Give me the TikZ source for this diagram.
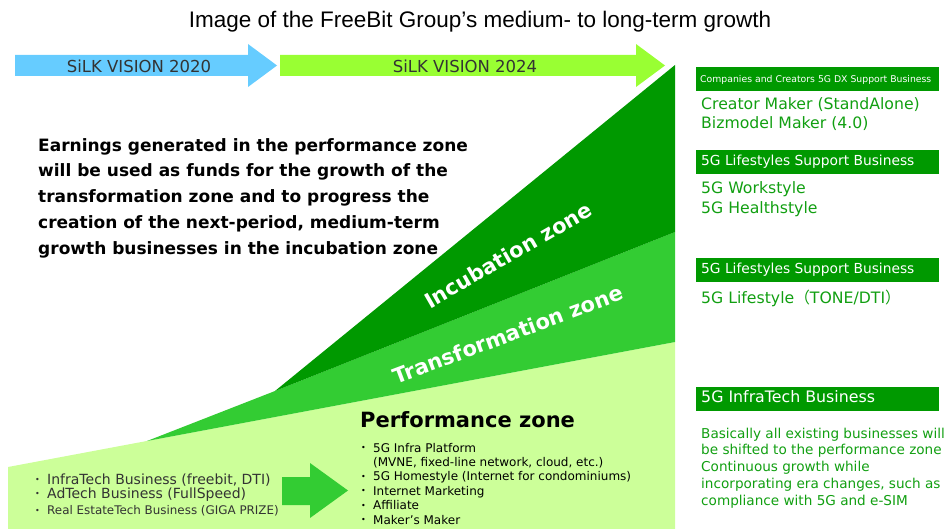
\documentclass[tikz,border=0pt]{standalone}
\usepackage{fontspec}
\setmainfont{DejaVu Sans}
\newfontfamily\titlefont{Liberation Sans}
\newfontfamily\cjkfont{Noto Sans CJK JP}
\newcommand{\fsz}[2]{\fontsize{#1}{#2}\selectfont}
\newcommand{\bul}{\makebox[12pt][l]{\raisebox{0.12em}{\fsz{8}{8}•}}}

\definecolor{silkblue}{HTML}{66CCFF}
\definecolor{silkgreen}{HTML}{99FF33}
\definecolor{zonedark}{HTML}{009900}
\definecolor{zonemid}{HTML}{33CC33}
\definecolor{zonelight}{HTML}{CCFF99}
\definecolor{bizgreen}{HTML}{119F11}
\definecolor{darktext}{HTML}{333333}

\tikzset{
  txt/.style={inner sep=0pt, anchor=base west, align=left},
  hdrbox/.style={fill=zonedark, anchor=north west, inner sep=0pt,
                 minimum width=243pt, minimum height=24pt},
  hdrtext/.style={inner sep=0pt, anchor=west, text=white, xshift=5pt,
                  text height=0.73em, text depth=0pt},
  biz/.style={txt, text=bizgreen},
  zonelabel/.style={inner sep=0pt, text=white, font=\bfseries\fsz{21}{22}},
}

\begin{document}
\begin{tikzpicture}[x=1pt, y=-1pt]
\useasboundingbox (0,0) rectangle (944,529);

% heading
\node[inner sep=0pt, anchor=base] (title) at (480,28)
  {\titlefont\fsz{22.5}{24}Image of the FreeBit Group’s medium- to long-term growth};

% vision arrows
\fill[silkblue] (15,55) -- (248,55) -- (248,44) -- (277,65.5) -- (248,87) -- (248,76) -- (15,76) -- cycle;
\fill[silkgreen] (280,55) -- (636,55) -- (636,44) -- (665,65.5) -- (636,87) -- (636,76) -- (280,76) -- cycle;
\node[inner sep=0pt, text=darktext, font=\fsz{16.5}{17}] (v2020) at (139,66) {SiLK VISION 2020};
\node[inner sep=0pt, text=darktext, font=\fsz{16.5}{17}] (v2024) at (465,66) {SiLK VISION 2024};

% growth zones
\fill[zonelight] (8,467) -- (675,342) -- (675,529) -- (8,529) -- cycle;
\fill[zonemid] (147,441) -- (275,391) -- (675,232) -- (675,342) -- cycle;
\fill[zonedark] (275,391) -- (675,65) -- (675,232) -- cycle;

\node[zonelabel, rotate=30] (incub) at (508,255) {Incubation zone};
\node[zonelabel, rotate=20.6] (transf) at (508,334.5) {Transformation zone};

% explanatory text
\node[txt, font=\bfseries\fsz{17}{25.8}] (expl) at (38,254.4)
  {Earnings generated in the performance zone\\
   will be used as funds for the growth of the\\
   transformation zone and to progress the\\
   creation of the next-period, medium-term\\
   growth businesses in the incubation zone};

% current businesses
\node[txt, text=darktext, font=\fsz{14}{15}] (li1) at (35,484) {\bul InfraTech Business (freebit, DTI)};
\node[txt, text=darktext, font=\fsz{14}{15}] (li2) at (35,498.5) {\bul AdTech Business (FullSpeed)};
\node[txt, text=darktext, font=\fsz{11.9}{13}] (li3) at (35,514.8) {\bul Real EstateTech Business (GIGA PRIZE)};

\fill[zonemid] (282,477) -- (310,477) -- (310,463) -- (348,490.5) -- (310,518) -- (310,505) -- (282,505) -- cycle;

% performance zone
\node[txt, font=\bfseries\fsz{21}{22}] (perf) at (360,427.5) {Performance zone};
\node[txt, text=black, font=\fsz{12}{14.4}] (perflist) at (361,524)
  {\bul 5G Infra Platform\\
   \hspace*{12pt}(MVNE, fixed-line network, cloud, etc.)\\
   \bul 5G Homestyle (Internet for condominiums)\\
   \bul Internet Marketing\\
   \bul Affiliate\\
   \bul Maker's Maker};

% business column
\node[hdrbox] (h1) at (696,67) {};
\node[hdrtext, font=\fsz{9.3}{10}, xshift=-1pt] (h1t) at (h1.west) {Companies and Creators 5G DX Support Business};
\node[biz, font=\fsz{15.7}{19}] (b1) at (701,128.7) {Creator Maker (StandAlone)\\Bizmodel Maker (4.0)};

\node[hdrbox] (h2) at (696,150) {};
\node[hdrtext, font=\fsz{13.8}{14}] (h2t) at (h2.west) {5G Lifestyles Support Business};
\node[biz, font=\fsz{15.7}{20}] (b2) at (701,213.7) {5G Workstyle\\5G Healthstyle};

\node[hdrbox] (h3) at (696,258) {};
\node[hdrtext, font=\fsz{13.8}{14}] (h3t) at (h3.west) {5G Lifestyles Support Business};
\node[biz, font=\fsz{15.7}{20}] (b3) at (701,303.7) {5G Lifestyle{\cjkfont （}TONE/DTI{\cjkfont ）}};

\node[hdrbox] (h4) at (696,387) {};
\node[hdrtext, font=\fsz{15.8}{16}] (h4t) at (h4.west) {5G InfraTech Business};
\node[biz, font=\fsz{13.6}{16.75}] (b4) at (701,505)
  {Basically all existing businesses will\\
   be shifted to the performance zone\\
   Continuous growth while\\
   incorporating era changes, such as\\
   compliance with 5G and e-SIM};

\end{tikzpicture}
\end{document}
